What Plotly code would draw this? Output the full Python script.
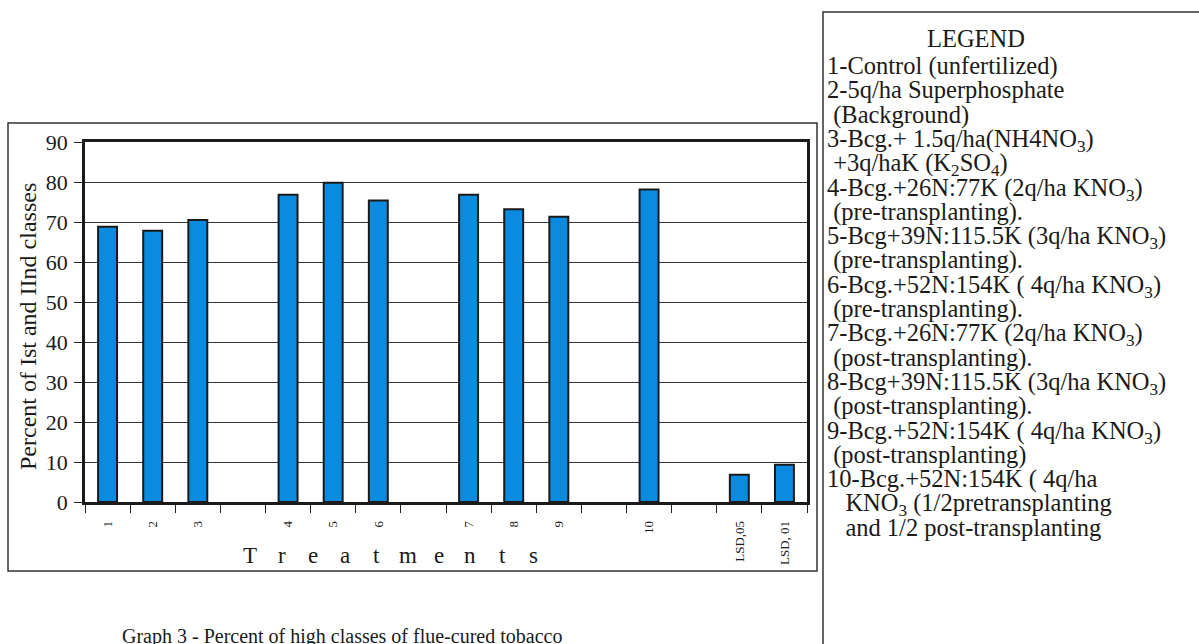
import plotly.graph_objects as go

# ---- data ----
categories = ["1", "2", "3", " ", "4", "5", "6", "  ", "7", "8", "9", "   ", "10", "    ", "LSD,05", "LSD, 01"]
values = [68.8, 67.8, 70.5, None, 76.8, 79.8, 75.4, None, 76.8, 73.2, 71.3, None, 78.1, None, 6.8, 9.3]
y_ticks = [0, 10, 20, 30, 40, 50, 60, 70, 80, 90]

legend_lines = [
    "1-Control (unfertilized)",
    "2-5q/ha Superphosphate",
    "\u00a0(Background)",
    "3-Bcg.+ 1.5q/ha(NH4NO<sub>3</sub>)",
    "\u00a0+3q/haK (K<sub>2</sub>SO<sub>4</sub>)",
    "4-Bcg.+26N:77K (2q/ha KNO<sub>3</sub>)",
    "\u00a0(pre-transplanting).",
    "5-Bcg+39N:115.5K (3q/ha KNO<sub>3</sub>)",
    "\u00a0(pre-transplanting).",
    "6-Bcg.+52N:154K ( 4q/ha KNO<sub>3</sub>)",
    "\u00a0(pre-transplanting).",
    "7-Bcg.+26N:77K (2q/ha KNO<sub>3</sub>)",
    "\u00a0(post-transplanting).",
    "8-Bcg+39N:115.5K (3q/ha KNO<sub>3</sub>)",
    "\u00a0(post-transplanting).",
    "9-Bcg.+52N:154K ( 4q/ha KNO<sub>3</sub>)",
    "\u00a0(post-transplanting)",
    "10-Bcg.+52N:154K ( 4q/ha",
    "\u00a0\u00a0\u00a0KNO<sub>3</sub> (1/2pretransplanting",
    "\u00a0\u00a0\u00a0and 1/2 post-transplanting",
]
x_title = "Treatments"
y_title = "Percent of Ist and IInd classes"
caption = "Graph 3 - Percent of high classes of flue-cured tobacco"

W, H = 1199, 644
FONT = "Liberation Serif"
PL, PR, PT, PB = 85, 807, 142, 502  # plot area in pixels

def px(x):
    return (x - PL) / (PR - PL)

def py(y):
    return (PB - y) / (PB - PT)

fig = go.Figure()
fig.add_trace(go.Bar(
    x=categories, y=values,
    marker=dict(color="#0a8be0", line=dict(color="#1a1a1a", width=2)),
    showlegend=False,
))

shapes = [
    dict(type="rect", xref="paper", yref="paper", x0=px(8), x1=px(817), y0=py(571), y1=py(123),
         line=dict(color="#333333", width=1.5), layer="below"),
    dict(type="rect", xref="paper", yref="paper", x0=px(823), x1=px(1215), y0=py(660), y1=py(12),
         line=dict(color="#333333", width=1.5), layer="below"),
]

LFS = 24.5
annotations = []
annotations.append(dict(text="LEGEND", x=px(976), y=py(39), xref="paper", yref="paper",
                        xanchor="center", yanchor="middle", showarrow=False,
                        font=dict(family=FONT, size=LFS, color="#1a1a1a")))
for i, line in enumerate(legend_lines):
    cy = 66 + 24.3 * i
    annotations.append(dict(text=line, x=px(825), y=py(cy - 16), xref="paper", yref="paper",
                            xanchor="left", yanchor="top", showarrow=False,
                            font=dict(family=FONT, size=LFS, color="#1a1a1a")))

for i, ch in enumerate(x_title):
    annotations.append(dict(text=ch, x=px(250 + i * 31.5), y=py(555), xref="paper", yref="paper",
                            xanchor="center", yanchor="middle", showarrow=False,
                            font=dict(family=FONT, size=23, color="#1a1a1a")))
annotations.append(dict(text=y_title, x=px(28), y=py(327), xref="paper", yref="paper",
                        xanchor="center", yanchor="middle", textangle=-90, showarrow=False,
                        font=dict(family=FONT, size=24, color="#1a1a1a")))
annotations.append(dict(text=caption, x=px(120), y=py(623), xref="paper", yref="paper",
                        xanchor="left", yanchor="top", showarrow=False,
                        font=dict(family=FONT, size=20, color="#1a1a1a")))

fig.update_layout(
    width=W, height=H,
    margin=dict(l=PL, r=W - PR, t=PT, b=H - PB, pad=0),
    paper_bgcolor="white", plot_bgcolor="white",
    bargap=0.58,
    shapes=shapes,
    annotations=annotations,
    font=dict(family=FONT, color="#1a1a1a"),
    xaxis=dict(
        type="category", categoryorder="array", categoryarray=categories,
        tickson="boundaries", ticks="outside", ticklen=8, tickwidth=1.2, tickcolor="#222",
        tickangle=-90, tickfont=dict(family=FONT, size=13, color="#1a1a1a"),
        showline=True, linecolor="#1a1a1a", linewidth=2.5, mirror=True,
        showgrid=False, ticklabelstandoff=11,
    ),
    yaxis=dict(
        range=[0, 90], tickvals=y_ticks, ticks="outside", ticklen=8, tickwidth=1.2, tickcolor="#222",
        tickfont=dict(family=FONT, size=22, color="#1a1a1a"),
        showline=True, linecolor="#1a1a1a", linewidth=2.5, mirror=True,
        showgrid=True, gridcolor="#333333", gridwidth=1, zeroline=False,
        ticklabelstandoff=2,
    ),
)

fig.write_html("out.html", post_script="document.body.style.margin='0px';",
               config={"displayModeBar": False})
